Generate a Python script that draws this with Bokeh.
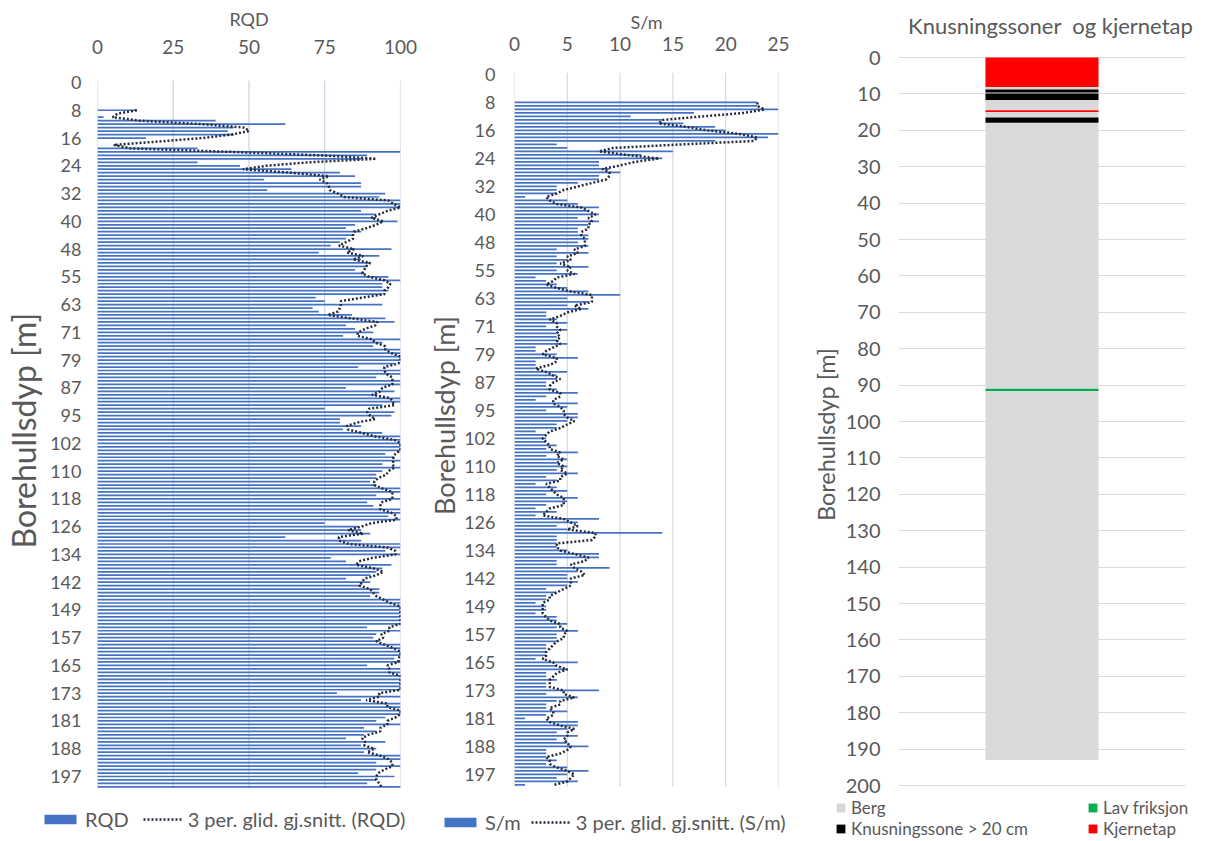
from bokeh.plotting import figure
from bokeh.models import ColumnDataSource, Range1d, FixedTicker, Legend, LegendItem
from bokeh.layouts import row, column
from bokeh.embed import file_html
from bokeh.resources import INLINE
import pandas as pd

FONT = "Lato"
TXT = "#595959"
BLUE = "#4472C4"
DOT = "#262B3A"
NB = "\u00a0"

# depth labels shown on the category axes (every 8th row)
depth_labels = ["0", "8", "16", "24", "32", "40", "48", "55", "63", "71", "79", "87", "95",
                "102", "110", "118", "126", "134", "142", "149", "157", "165", "173", "181",
                "188", "197"]
first_row = 8         # rows 0-7: core loss, no data
last_row = 203

# RQD per row (rows 8..203)
rqd = [13, 0, 2, 39, 62, 45, 43, 45, 16, 0,
       0, 33, 100, 89, 87, 33, 47, 64, 80, 85,
       55, 87, 87, 56, 95, 93, 100, 100, 100, 87,
       92, 92, 99, 85, 82, 87, 84, 82, 80, 77,
       97, 73, 93, 87, 90, 89, 85, 88, 96, 100,
       94, 94, 96, 94, 72, 75, 94, 71, 73, 84,
       95, 98, 82, 85, 91, 81, 100, 94, 91, 100,
       100, 100, 100, 98, 86, 100, 100, 92, 100, 100,
       82, 98, 92, 100, 100, 94, 75, 98, 97, 80,
       80, 87, 81, 94, 100, 100, 100, 100, 100, 95,
       98, 100, 94, 100, 94, 92, 92, 90, 92, 100,
       100, 92, 100, 89, 91, 100, 100, 96, 100, 75,
       86, 87, 90, 62, 87, 100, 100, 95, 100, 77,
       82, 97, 94, 92, 90, 82, 90, 87, 93, 93,
       90, 100, 100, 100, 100, 100, 100, 100, 100, 89,
       100, 92, 91, 93, 100, 100, 100, 100, 98, 100,
       89, 100, 100, 100, 100, 100, 100, 100, 79, 100,
       87, 100, 100, 100, 100, 95, 92, 100, 88, 92,
       88, 82, 95, 87, 92, 88, 100, 100, 92, 100,
       92, 86, 98, 92, 89, 100]

# Fractures per metre (rows 8..203)
sm = [23, 23, 25, 17, 11, 14, 16, 19, 20, 25,
      24, 19, 4, 5, 15, 12, 14, 8, 8, 9,
      10, 8, 8, 6, 4, 4, 4, 1, 5, 6,
      8, 7, 8, 6, 8, 7, 6, 6, 7, 7,
      6, 7, 4, 7, 4, 5, 4, 7, 4, 6,
      2, 3, 4, 5, 7, 10, 5, 7, 5, 7,
      3, 3, 4, 5, 3, 5, 4, 4, 4, 5,
      2, 2, 4, 6, 2, 2, 2, 5, 4, 4,
      3, 3, 4, 6, 3, 2, 6, 5, 3, 6,
      6, 5, 4, 4, 2, 3, 3, 3, 4, 3,
      6, 3, 5, 4, 5, 4, 6, 3, 4, 2,
      4, 5, 3, 6, 5, 3, 2, 4, 2, 8,
      6, 4, 5, 14, 4, 4, 4, 4, 5, 8,
      8, 4, 4, 9, 6, 5, 5, 6, 5, 3,
      4, 3, 3, 2, 3, 3, 2, 4, 4, 5,
      4, 6, 4, 4, 4, 3, 3, 3, 3, 2,
      6, 4, 5, 3, 3, 4, 3, 3, 8, 3,
      6, 4, 3, 3, 5, 3, 1, 6, 6, 5,
      4, 6, 4, 5, 7, 3, 3, 3, 4, 3,
      5, 7, 5, 4, 6, 1]

rqd_ticks = [0, 25, 50, 75, 100]
sm_ticks = [0, 5, 10, 15, 20, 25]

# right panel: stacked zones from the top of the hole (type, length in m)
zone_types = ["Kjernetap", "Berg", "Knusningssone", "Berg", "Knusningssone", "Berg",
              "Kjernetap", "Berg", "Knusningssone", "Berg", "Lav friksjon", "Berg"]
zone_lengths = [8.1, 0.7, 0.8, 0.3, 1.8, 2.8, 0.5, 1.5, 1.4, 73.1, 0.6, 101.4]
zone_legend = {"Berg": "Berg", "Lav friksjon": "Lav friksjon",
               "Knusningssone": "Knusningssone > 20 cm", "Kjernetap": "Kjernetap"}
zone_colors = {"Berg": "#D9D9D9", "Lav friksjon": "#00B050",
               "Knusningssone": "#000000", "Kjernetap": "#FF0000"}
depth_ticks_right = list(range(0, 201, 10))

rows = list(range(first_row, first_row + len(rqd)))
rqd_ma = pd.Series(rqd).rolling(3, min_periods=1).mean().tolist()
sm_ma = pd.Series(sm).rolling(3, min_periods=1).mean().tolist()
src = ColumnDataSource(dict(row=rows, rqd=rqd, sm=sm, rqd_ma=rqd_ma, sm_ma=sm_ma))
overrides = {8 * k: lbl for k, lbl in enumerate(depth_labels)}

MAIN_H = 797
TOP = 56
BOTTOM = 9


def base_axis(ax):
    ax.axis_line_color = None
    ax.major_tick_line_color = None
    ax.minor_tick_line_color = None
    ax.major_tick_out = 0
    ax.major_tick_in = 0
    ax.minor_tick_out = 0
    ax.minor_tick_in = 0
    ax.major_label_text_font = FONT
    ax.major_label_text_color = TXT
    ax.axis_label_text_font = FONT
    ax.axis_label_text_font_style = "normal"
    ax.axis_label_text_color = TXT


def depth_panel(width, left, right, xmax, yr, ticks, grid_color, title,
                lab_standoff, title_standoff, ylab_standoff, ytitle, ytitle_size,
                ytitle_standoff):
    p = figure(width=width, height=MAIN_H, x_range=Range1d(0, xmax), y_range=yr,
               x_axis_location="above", output_backend="svg", toolbar_location=None,
               min_border_left=left, min_border_right=right, min_border_top=TOP,
               min_border_bottom=BOTTOM)
    p.outline_line_color = None
    p.background_fill_color = "white"
    p.border_fill_color = "white"
    p.xgrid.grid_line_color = None
    p.ygrid.grid_line_color = None
    # vertical grid lines only over the category rows
    p.segment(x0=ticks, x1=ticks, y0=[-0.5] * len(ticks), y1=[last_row + 0.5] * len(ticks),
              line_color=grid_color, line_width=1.2)
    p.xaxis.ticker = FixedTicker(ticks=ticks)
    p.yaxis.ticker = FixedTicker(ticks=list(range(0, 201, 8)))
    p.yaxis.major_label_overrides = overrides
    base_axis(p.xaxis[0])
    base_axis(p.yaxis[0])
    p.xaxis.major_label_text_font_size = "19px"
    p.xaxis.major_label_standoff = lab_standoff
    p.xaxis.axis_label = title
    p.xaxis.axis_label_text_font_size = "18px"
    p.xaxis.axis_label_standoff = title_standoff
    p.yaxis.major_label_text_font_size = "18px"
    p.yaxis.major_label_standoff = ylab_standoff
    p.yaxis.axis_label = ytitle
    p.yaxis.axis_label_text_font_size = ytitle_size
    p.yaxis.axis_label_standoff = ytitle_standoff
    return p


# ---------------- Panel 1: RQD ----------------
p1 = depth_panel(425, 97, 25, 100, Range1d(203.46, -7.49), rqd_ticks, "#C8D2E6", "RQD",
                 3, 7, 16, "Borehullsdyp [m]" + NB * 2, "32px", 4)
p1.hbar(y="row", left=0, right="rqd", height=0.5, source=src,
        fill_color=BLUE, line_color=None)
p1.line(x="rqd_ma", y="row", source=src, line_color=DOT, line_width=2.5, line_dash="2 2")

# ---------------- Panel 2: S/m ----------------
p2 = depth_panel(383, 89, 30, 25, Range1d(204.0, -5.14), sm_ticks, "#D9D9D9", "S/m",
                 6, 1, 19, NB * 2 + "Borehullsdyp [m]", "27px", 0)
p2.hbar(y="row", left=0, right="sm", height=0.5, source=src,
        fill_color=BLUE, line_color=None)
p2.line(x="sm_ma", y="row", source=src, line_color=DOT, line_width=2.5, line_dash="2 2")

# ---------------- Panel 3: zones ----------------
p3 = figure(width=396, height=MAIN_H, x_range=Range1d(0, 1), y_range=Range1d(200.82, -0.275),
            x_axis_location="above", output_backend="svg", toolbar_location=None,
            min_border_left=90, min_border_right=19, min_border_top=TOP,
            min_border_bottom=BOTTOM)
p3.outline_line_color = None
p3.xgrid.grid_line_color = None
p3.ygrid.grid_line_color = "#D9D9D9"
# the chart title sits in the (tick-less) top axis label
p3.xaxis.ticker = FixedTicker(ticks=[])
base_axis(p3.xaxis[0])
p3.xaxis.axis_label = NB * 3 + "Knusningssoner" + NB + " og kjernetap"
p3.xaxis.axis_label_text_font_size = "22px"
p3.xaxis.axis_label_standoff = 18
p3.yaxis.ticker = FixedTicker(ticks=depth_ticks_right)
ax = p3.yaxis[0]
base_axis(ax)
ax.major_label_text_font_size = "20px"
ax.major_label_standoff = 18
ax.axis_label = "Borehullsdyp [m]" + NB * 4
ax.axis_label_text_font_size = "23.5px"
ax.axis_label_standoff = 3

tops, bottoms = [], []
acc = 0.0
for ln in zone_lengths:
    bottoms.append(acc)
    acc += ln
    tops.append(acc)
for t in ["Berg", "Lav friksjon", "Knusningssone", "Kjernetap"]:
    idx = [i for i, z in enumerate(zone_types) if z == t]
    s = ColumnDataSource(dict(x=[0.5] * len(idx), b=[bottoms[i] for i in idx],
                              t=[tops[i] for i in idx]))
    p3.vbar(x="x", bottom="b", top="t", width=0.394, source=s,
            fill_color=zone_colors[t], line_color=None)

# ---------------- Legend strip ----------------
LEG_W, LEG_H = 1204, 43
pl = figure(width=LEG_W, height=LEG_H, x_range=Range1d(0, LEG_W), y_range=Range1d(0, LEG_H),
            output_backend="svg", toolbar_location=None, min_border=0,
            min_border_left=0, min_border_right=0, min_border_top=0, min_border_bottom=0)
pl.axis.visible = False
pl.grid.visible = False
pl.outline_line_color = None
# legend-only renderers (kept outside the visible range)
off = dict(y=[-50], left=[0], right=[1], height=1)
lg_bar1 = pl.hbar(**off, fill_color=BLUE, line_color=None)
lg_line1 = pl.line(x=[0, 1], y=[-50, -50], line_color=DOT, line_width=2.5, line_dash="2 2")
lg_zone = {t: pl.hbar(**off, fill_color=zone_colors[t], line_color=None)
           for t in zone_colors}


def add_legend(items, x, y, glyph_w, glyph_h, size, spacing=12, label_h=22):
    lg = Legend(items=items, location=(x, y), orientation="horizontal",
                glyph_width=glyph_w, glyph_height=glyph_h, label_standoff=5,
                spacing=spacing, padding=0, margin=0, border_line_color=None,
                background_fill_alpha=0, label_text_font=FONT,
                label_text_font_size=size, label_text_color=TXT,
                label_height=label_h)
    pl.add_layout(lg, "center")


add_legend([LegendItem(label="RQD", renderers=[lg_bar1]),
            LegendItem(label="3 per. glid. gj.snitt. (RQD)", renderers=[lg_line1])],
           40, 9, 40, 12, "20px", spacing=14)
add_legend([LegendItem(label="S/m", renderers=[lg_bar1]),
            LegendItem(label="3 per. glid. gj.snitt. (S/m)", renderers=[lg_line1])],
           440, 6, 40, 12, "20px", spacing=10)
zone_leg_pos = {"Berg": (835, 22), "Lav friksjon": (1087, 22),
                "Knusningssone": (835, 1), "Kjernetap": (1087, 1)}
for t, (lx, ly) in zone_leg_pos.items():
    add_legend([LegendItem(label=zone_legend[t], renderers=[lg_zone[t]])],
               lx, ly, 11, 11, "17px", label_h=20)

layout = column(row(p1, p2, p3), pl)
open("out.html", "w").write(file_html(layout, INLINE, "Borehull"))
